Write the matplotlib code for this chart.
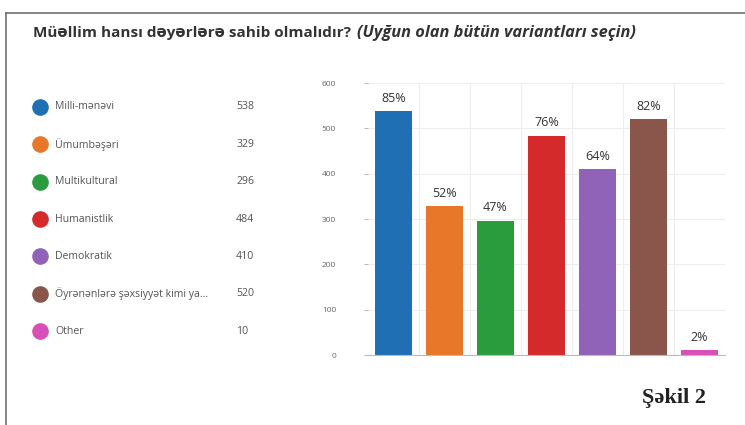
import matplotlib
matplotlib.use("Agg")
import matplotlib.pyplot as plt
from matplotlib.lines import Line2D

categories = [
    "Milli-mənəvi",
    "Ümumbəşəri",
    "Multikultural",
    "Humanistlik",
    "Demokratik",
    "Öyrənənlərə şəxsiyyət kimi ya...",
    "Other",
]
counts = [538, 329, 296, 484, 410, 520, 10]
percent_labels = ["85%", "52%", "47%", "76%", "64%", "82%", "2%"]
colors = ["#1f6fb4", "#e8772a", "#2a9c3e", "#d42a2c", "#9163b8", "#8a554a", "#d94fb8"]
y_ticks = [0, 100, 200, 300, 400, 500, 600]

plt.rcParams["font.family"] = ["Open Sans", "DejaVu Sans"]

fig = plt.figure(figsize=(7.45, 4.25), dpi=100)

# frame lines of the screenshot
fig.add_artist(Line2D([6 / 745, 6 / 745], [0, 1 - 13 / 425], color="#666666", lw=1.1))
fig.add_artist(Line2D([6 / 745, 1], [1 - 13 / 425, 1 - 13 / 425], color="#666666", lw=1.1))

fig.text(33 / 745, 1 - 33 / 425, "Müəllim hansı dəyərlərə sahib olmalıdır? ",
         fontsize=11, fontweight="bold", color="#333333", va="center", ha="left")
fig.text(357 / 745, 1 - 33 / 425, "(Uyğun olan bütün variantları seçin)",
         fontsize=11.8, fontweight="bold", style="italic", color="#333333", va="center", ha="left")

# legend panel
lax = fig.add_axes([0.02, 1 - 350 / 425, 0.36, (350 - 88) / 425])
lax.set_xlim(0, 1)
lax.set_ylim(len(categories) - 0.5, -0.5)
lax.axis("off")
for i, (name, val, col) in enumerate(zip(categories, counts, colors)):
    lax.scatter([40 / 745 / 0.36 - 0.02 / 0.36], [i], s=120, color=col)
    lax.text(0.15, i, name, fontsize=7.6, color="#555555", va="center", ha="left")
    lax.text(0.825, i, str(val), fontsize=7.6, color="#555555", va="center", ha="left")

# bar chart
ax = fig.add_axes([368 / 745, 1 - 355 / 425, (725 - 368) / 745, (355 - 83) / 425])
x = list(range(len(categories)))
ax.bar(x, counts, width=0.72, color=colors, zorder=2)
for xi, c, lab in zip(x, counts, percent_labels):
    ax.text(xi, c + 14, lab, ha="center", va="bottom", fontsize=9, color="#333333")
ax.set_xlim(-0.5, len(categories) - 0.5)
ax.set_ylim(0, 600)
ax.set_yticks(y_ticks)
ax.set_yticklabels([str(t) for t in y_ticks], fontsize=6, color="#666666")
ax.set_xticks([i + 0.5 for i in x[:-1]], minor=True)
ax.set_xticks([])
ax.grid(axis="y", color="#eeeeee", lw=0.8, zorder=0)
ax.grid(axis="x", which="minor", color="#eeeeee", lw=0.8, zorder=0)
ax.tick_params(axis="y", length=3, color="#bbbbbb", pad=20)
ax.tick_params(axis="x", which="minor", length=0)
for side in ["top", "right", "left"]:
    ax.spines[side].set_visible(False)
ax.spines["bottom"].set_color("#bbbbbb")

fig.text(706 / 745, 1 - 398 / 425, "Şəkil 2", fontsize=16, fontweight="bold",
         family=["Liberation Serif", "DejaVu Serif"], ha="right", va="center", color="#222222")

fig.savefig("out.png", dpi=100)
